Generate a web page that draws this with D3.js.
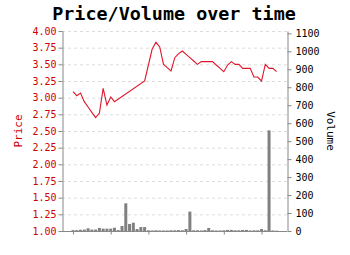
<!DOCTYPE html>
<html>
<head>
<meta charset="utf-8">
<script src="https://cdn.jsdelivr.net/npm/d3@7"></script>
<style>
  body { margin: 0; background: #fff; }
  text { font-family: "DejaVu Sans Mono", monospace; }
</style>
</head>
<body>
<div id="chart"></div>
<script>
// day index for every sample (price has a hole between day 11 and day 19)
var days = d3.range(0, 55)
var price = [3.09, 3.03, 3.07, 2.94, 2.86, 2.78, 2.70, 2.77, 3.14, 2.89,
             3.01, 2.94, null, null, null, null, null, null, null, 3.25,
             3.49, 3.73, 3.83, 3.76, 3.50, 3.45, 3.40, 3.60, 3.66, 3.70,
             3.65, 3.60, 3.55, 3.50, 3.54, 3.54, 3.54, 3.54, 3.49, 3.44,
             3.39, 3.49, 3.54, 3.50, 3.50, 3.44, 3.44, 3.44, 3.31, 3.31,
             3.25, 3.50, 3.44, 3.44, 3.39]
var volume = [5, 5, 7, 8, 15, 8, 8, 17, 13, 13,
              13, 18, 5, 28, 154, 39, 46, 11, 22, 22,
              4, 3, 4, 3, 3, 3, 4, 4, 5, 4,
              11, 108, 4, 4, 3, 5, 17, 4, 3, 3,
              4, 6, 6, 4, 4, 6, 6, 3, 4, 4,
              11, 4, 560, 3, 2]
var priceTicks = d3.range(1, 4.001, 0.25)
var volumeTicks = d3.range(0, 1101, 100)
var dayTicks = [0, 10, 20, 30, 40, 50]

var width = 350, height = 255
var plotL = 62, plotR = 287, plotT = 31, plotB = 231

var svg = d3.select("#chart")
    .append("svg")
    .attr("width", width)
    .attr("height", height)

var x = d3.scaleLinear().domain([0, 54]).range([73, 276.6])
var yP = d3.scaleLinear().domain([1, 4]).range([plotB, plotT])
var yV = d3.scaleLinear().domain([0, 1113]).range([plotB, plotT])

// dashed grid on price ticks
svg.append("g")
    .selectAll("line")
    .data(priceTicks)
    .enter()
    .append("line")
        .attr("x1", plotL).attr("x2", plotR)
        .attr("y1", d => yP(d) + 0.5).attr("y2", d => yP(d) + 0.5)
        .style("stroke", "#dcdcdc")
        .style("stroke-dasharray", "3,3")

// volume bars
svg.append("g")
    .selectAll("rect")
    .data(days)
    .enter()
    .append("rect")
        .attr("x", d => x(d) - 1.5)
        .attr("width", 3)
        .attr("y", d => yV(volume[d]))
        .attr("height", d => plotB - yV(volume[d]))
        .style("fill", "#808080")

// price line, skipping the missing days
var pts = days.filter(d => price[d] != null)
svg.append("path")
    .datum(pts)
    .attr("d", d3.line().x(d => x(d)).y(d => yP(price[d])))
    .style("fill", "none")
    .style("stroke", "#e0162b")
    .style("stroke-width", 1.1)

// axes
var axL = svg.append("g")
    .attr("transform", "translate(" + (plotL + 0.5) + ",0)")
    .call(d3.axisLeft(yP).tickValues(priceTicks).tickFormat(d3.format(".2f")).tickSize(4).tickPadding(2).tickSizeOuter(0))
axL.selectAll("text").style("fill", "#cc0000").style("font-size", "10px")

var axR = svg.append("g")
    .attr("transform", "translate(" + (plotR + 0.5) + ",0)")
    .call(d3.axisRight(yV).tickValues(volumeTicks).tickFormat(d3.format("d")).tickSize(4).tickPadding(4).tickSizeOuter(0))
axR.selectAll("text").style("fill", "#000").style("font-size", "10px")

var axB = svg.append("g")
    .attr("transform", "translate(0," + (plotB + 0.5) + ")")
    .call(d3.axisBottom(x).tickValues(dayTicks).tickFormat("").tickSize(3).tickSizeOuter(0))
axB.select(".domain").attr("d", "M" + plotL + ",0H" + plotR)

svg.selectAll(".domain, .tick line").style("stroke", "#888")

// titles
svg.append("text")
    .attr("x", 174).attr("y", 20)
    .attr("text-anchor", "middle")
    .style("font-size", "18.4px")
    .style("font-weight", "bold")
    .text("Price/Volume over time")

svg.append("text")
    .attr("transform", "translate(22," + ((plotT + plotB) / 2) + ") rotate(-90)")
    .attr("text-anchor", "middle")
    .style("font-size", "11px")
    .style("fill", "#cc0000")
    .text("Price")

svg.append("text")
    .attr("transform", "translate(327," + ((plotT + plotB) / 2) + ") rotate(90)")
    .attr("text-anchor", "middle")
    .style("font-size", "11px")
    .style("fill", "#000")
    .text("Volume")
</script>
</body>
</html>
